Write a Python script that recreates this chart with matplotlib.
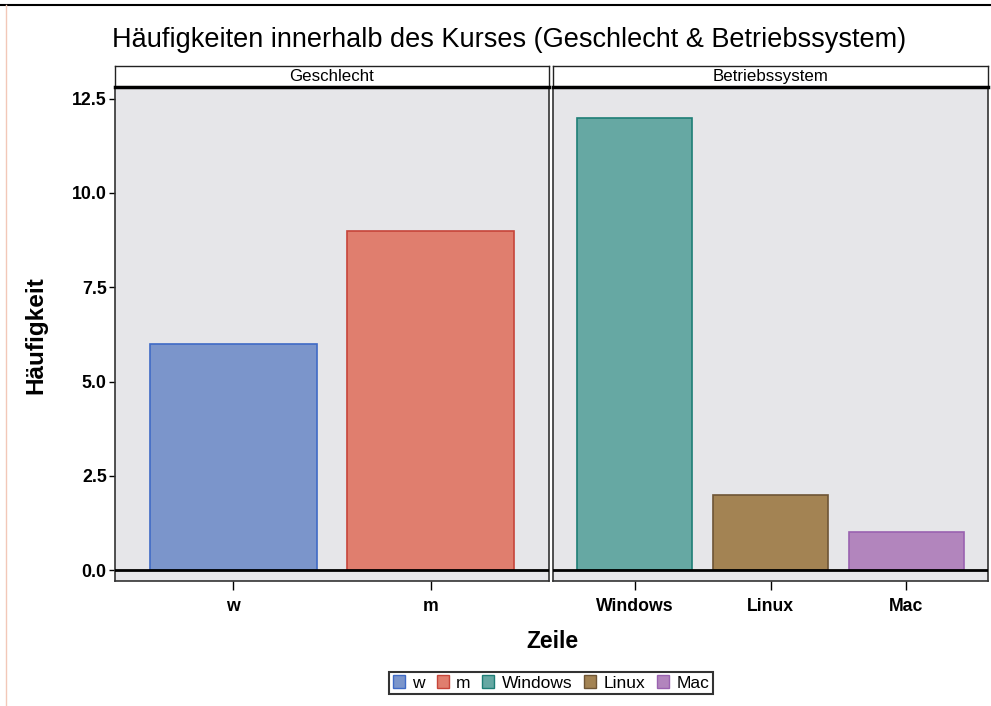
import matplotlib.pyplot as plt
from matplotlib.patches import Patch
from matplotlib.lines import Line2D

plt.rcParams['font.family'] = ['Liberation Sans', 'DejaVu Sans']

# Data
sex_labels = ["w", "m"]
sex_counts = [6, 9]
os_labels = ["Windows", "Linux", "Mac"]
os_counts = [12, 2, 1]
y_ticks = [0.0, 2.5, 5.0, 7.5, 10.0, 12.5]

fill_colors = {"w": "#7B95CB", "m": "#E07E6E", "Windows": "#66A8A3",
               "Linux": "#A38353", "Mac": "#B285BD"}
edge_colors = {"w": "#3F6AC6", "m": "#C6453A", "Windows": "#1E7E76",
               "Linux": "#6E5535", "Mac": "#9A62B0"}

W, H = 991, 706
fig = plt.figure(figsize=(W / 100, H / 100), dpi=100)

def px_axes(x0, x1, y0, y1):
    return fig.add_axes([x0 / W, 1 - y1 / H, (x1 - x0) / W, (y1 - y0) / H])

panel_top, panel_bot = 87, 581
ax1 = px_axes(115, 549, panel_top, panel_bot)
ax2 = px_axes(553, 988, panel_top, panel_bot)

ylo, yhi = -0.29, 12.81
panels = [(ax1, sex_labels, sex_counts, "Geschlecht", 115, 549),
          (ax2, os_labels, os_counts, "Betriebssystem", 553, 988)]

for ax, labels, counts, strip, x0, x1 in panels:
    ax.set_facecolor("#E6E6E9")
    pos = list(range(len(labels)))
    ax.bar(pos, counts, width=0.85,
           color=[fill_colors[l] for l in labels],
           edgecolor=[edge_colors[l] for l in labels], linewidth=1.2, zorder=2)
    ax.axhline(0, color="black", lw=2, zorder=3)
    ax.set_xlim(-0.6, len(labels) - 0.4)
    ax.set_ylim(ylo, yhi)
    ax.set_xticks(pos)
    ax.set_xticklabels(labels, fontsize=12.7, fontweight="bold")
    ax.tick_params(axis="x", length=6.5, width=1, pad=6)
    for s in ax.spines.values():
        s.set_linewidth(1.2)
        s.set_color("#333333")
    # strip
    sax = px_axes(x0, x1, 66, panel_top)
    sax.set_xticks([])
    sax.set_yticks([])
    sax.set_facecolor("white")
    for s in sax.spines.values():
        s.set_linewidth(1)
        s.set_color("#222222")
    sax.spines["bottom"].set_linewidth(2.5)
    sax.spines["bottom"].set_color("black")
    sax.text(0.5, 0.5, strip, ha="center", va="center", fontsize=12.2,
             transform=sax.transAxes)

ax1.set_yticks(y_ticks)
ax1.set_yticklabels([f"{v:.1f}" for v in y_ticks], fontsize=12.8, fontweight="bold")
ax1.tick_params(axis="y", length=4, width=1, pad=2)
ax2.set_yticks([])

fig.text(112 / W, 1 - 40 / H,
         "Häufigkeiten innerhalb des Kurses (Geschlecht & Betriebssystem)",
         fontsize=19.5, ha="left", va="center")
fig.text(36 / W, 1 - 335 / H, "Häufigkeit", rotation=90, fontsize=17.5,
         fontweight="bold", ha="center", va="center")
fig.text(552 / W, 1 - 641 / H, "Zeile", fontsize=16.5, fontweight="bold",
         ha="center", va="center")

handles = [Patch(facecolor=fill_colors[l], edgecolor=edge_colors[l], label=l)
           for l in sex_labels + os_labels]
leg = fig.legend(handles=handles, loc="center", bbox_to_anchor=(551 / W, 1 - 683 / H),
                 ncol=5, fontsize=12.5, frameon=True, fancybox=False,
                 handlelength=0.7, handleheight=0.7, handletextpad=0.4,
                 columnspacing=0.7, borderpad=0.2, borderaxespad=0)
leg.get_frame().set_edgecolor("black")
leg.get_frame().set_linewidth(1.5)

# faint page border from the scanned original
fig.add_artist(Line2D([0, 1], [1 - 5 / H, 1 - 5 / H], color="black", lw=1.5,
                      transform=fig.transFigure))
fig.add_artist(Line2D([6 / W, 6 / W], [0, 1 - 5 / H], color="#F2C8B8", lw=1,
                      transform=fig.transFigure))

fig.savefig("out.png", dpi=100)
